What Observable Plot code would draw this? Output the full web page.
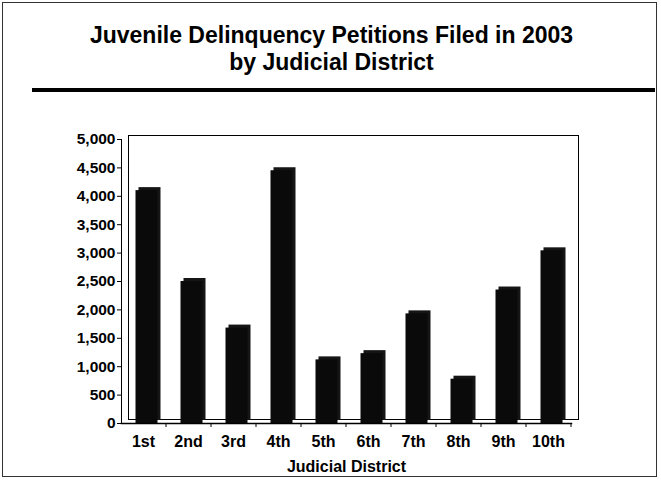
<!DOCTYPE html>
<html>
<head>
<meta charset="utf-8">
<script src="https://cdn.jsdelivr.net/npm/d3@7"></script>
<script src="https://cdn.jsdelivr.net/npm/@observablehq/plot@0.6"></script>
<style>
  html, body { margin: 0; padding: 0; background: #fff; }
  #page { position: relative; width: 661px; height: 481px; overflow: hidden; font-family: "Liberation Sans", Arial, sans-serif; }
  #border { position: absolute; left: 2px; top: 2px; width: 655px; height: 475px; border: 1px solid #333; box-sizing: border-box; }
  #title { position: absolute; left: 0; top: 22px; width: 663px; text-align: center; font-weight: bold; font-size: 23px; line-height: 27px; color: #000; }
  #rule { position: absolute; left: 32px; top: 88px; width: 623px; height: 4px; background: #000; }
  #chart { position: absolute; left: 0; top: 95px; }
</style>
</head>
<body>
<div id="page">
  <div id="border"></div>
  <div id="title">Juvenile Delinquency Petitions Filed in 2003<br>by Judicial District</div>
  <div id="rule"></div>
  <div id="chart"></div>
</div>
<script>
const districts = ["1st", "2nd", "3rd", "4th", "5th", "6th", "7th", "8th", "9th", "10th"];
const petitions = [4100, 2500, 1680, 4450, 1120, 1230, 1930, 780, 2350, 3040];
const yTicks = [0, 500, 1000, 1500, 2000, 2500, 3000, 3500, 4000, 4500, 5000];

const data = districts.map((d, i) => ({district: d, petitions: petitions[i]}));

const chart = Plot.plot({
  width: 661,
  height: 386,
  marginTop: 44,
  marginBottom: 58,
  marginLeft: 121,
  marginRight: 90,
  style: {fontFamily: "'Liberation Sans', Arial, sans-serif", fontWeight: "bold", fontSize: "16px", color: "#000", background: "transparent"},
  x: {domain: districts, paddingInner: 0.51, paddingOuter: 0.255},
  y: {domain: [0, 5000]},
  marks: [
    Plot.frame({dx: 7, dy: -4, stroke: "#000", strokeWidth: 1}),
    Plot.barY(data, {x: "district", y: "petitions", fill: "#151515", dx: 6.5, dy: -3}),
    Plot.barY(data, {x: "district", y: "petitions", fill: "#0a0a0a", dx: 3.5}),
    Plot.frame({anchor: "left", stroke: "#000"}),
    Plot.frame({anchor: "bottom", stroke: "#000", strokeWidth: 1.5}),
    Plot.axisY({ticks: yTicks, tickFormat: d3.format(",d"), tickSize: 4, tickPadding: 2, label: null, fontSize: 15.5}),
    Plot.axisX({tickSize: 4, dx: 22.5, text: null, label: null}),
    Plot.axisX({tickSize: 0, tickPadding: 12, fontSize: 16, label: "Judicial District", labelAnchor: "center", labelOffset: 48})
  ]
});
document.getElementById("chart").appendChild(chart);
</script>
</body>
</html>
